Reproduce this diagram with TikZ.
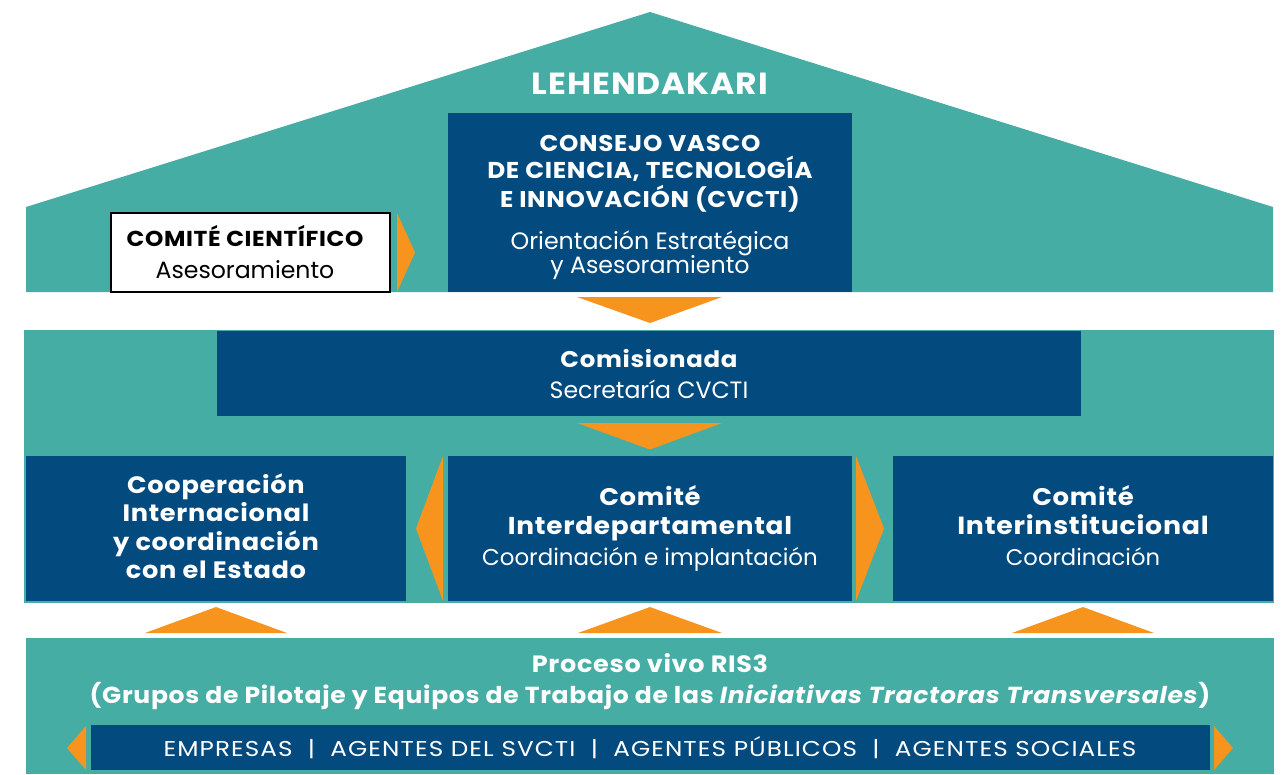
\documentclass[tikz,border=0pt]{standalone}
\usepackage{fontspec}
\setmainfont{Poppins}
\newfontfamily\fB[FakeStretch=1.08,LetterSpace=3]{Poppins}
\newfontfamily\fC[FakeStretch=1.15,LetterSpace=5]{Poppins}
\definecolor{hteal}{HTML}{46ADA5}
\definecolor{hnavy}{HTML}{034A7F}
\definecolor{horange}{HTML}{F7941D}
\begin{document}
\begin{tikzpicture}[x=0.75pt,y=-0.75pt,
  navybox/.style={fill=hnavy,inner sep=0pt,outer sep=0pt},
  whitebox/.style={fill=white,draw=black,line width=1.5pt,inner sep=0pt,outer sep=0pt},
  chev/.style={fill=horange},
  band/.style={fill=hteal},
  wt/.style={text=white,inner sep=0pt,anchor=base},
  bt/.style={text=black,inner sep=0pt,anchor=base},
  fb/.style={font=\fB\bfseries\fontsize{#1}{20}\selectfont},
  fr/.style={font=\fontsize{#1}{20}\selectfont},
]
\useasboundingbox (0,0) rectangle (1287,774);
% bands
\fill[band] (26,207) -- (650,12) -- (1273,207) -- (1273,292) -- (26,292) -- cycle;
\fill[band] (24,330) rectangle (1274,603);
\fill[band] (26,638) rectangle (1274,774);
% boxes
\node[navybox,minimum width=303pt,minimum height=134.25pt] (cvcti) at (650,202.5) {};
\node[whitebox,minimum width=209.25pt,minimum height=59.25pt] (cient) at (250.5,252.5) {};
\node[navybox,minimum width=648pt,minimum height=63.75pt] (comis) at (649,373.5) {};
\node[navybox,minimum width=285pt,minimum height=108.75pt] (coop) at (216,528.5) {};
\node[navybox,minimum width=303pt,minimum height=108.75pt] (interdep) at (650,528.5) {};
\node[navybox,minimum width=285pt,minimum height=108.75pt] (interinst) at (1083,528.5) {};
\node[navybox,minimum width=839.25pt,minimum height=33.75pt] (agents) at (650.5,747.5) {};
% chevrons
\fill[chev] (397,213) -- (415,252.5) -- (397,292) -- cycle;
\fill[chev] (577,297) -- (722,297) -- (650,323) -- cycle;
\fill[chev] (577,423) -- (722,423) -- (650,449.5) -- cycle;
\fill[chev] (443,456) -- (416,528.5) -- (443,601) -- cycle;
\fill[chev] (856,456) -- (884,528.5) -- (856,601) -- cycle;
\fill[chev] (145,633) -- (216,607) -- (287,633) -- cycle;
\fill[chev] (578,633) -- (650,607) -- (722,633) -- cycle;
\fill[chev] (1012,633) -- (1083,607) -- (1154,633) -- cycle;
\fill[chev] (86,726) -- (67,748) -- (86,770) -- cycle;
\fill[chev] (1214,726) -- (1233,748) -- (1214,770) -- cycle;
% texts
\node[wt,fb=22.9] (leh) at (650,94) {LEHENDAKARI};
\node[wt,fb=17.1] (cv1) at (650,151) {CONSEJO VASCO};
\node[wt,fb=17.2] (cv2) at (650,178.5) {DE CIENCIA, TECNOLOGÍA};
\node[wt,fb=17.1] (cv3) at (650,207) {E INNOVACIÓN (CVCTI)};
\node[wt,fr=17.8] (cv4) at (650,249) {Orientación Estratégica};
\node[wt,fr=17.8] (cv5) at (650,273.5) {y Asesoramiento};
\node[bt,fb=16.2] (ci1) at (245,246) {COMITÉ CIENTÍFICO};
\node[bt,fr=17.7] (ci2) at (245,278) {Asesoramiento};
\node[wt,fb=17] (cm1) at (649,367) {Comisionada};
\node[wt,fr=17.7] (cm2) at (649,398.5) {Secretaría CVCTI};
\node[wt,fb=17.8] (co1) at (216,493) {Cooperación};
\node[wt,fb=17.8] (co2) at (216,521.5) {Internacional};
\node[wt,fb=17.8] (co3) at (216,550) {y coordinación};
\node[wt,fb=17.8] (co4) at (216,578) {con el Estado};
\node[wt,fb=18] (id1) at (650,505.5) {Comité};
\node[wt,fb=18.3] (id2) at (650,534.5) {Interdepartamental};
\node[wt,fr=17.2] (id3) at (650,565.5) {Coordinación e implantación};
\node[wt,fb=18] (ii1) at (1083,505.5) {Comité};
\node[wt,fb=18.6] (ii2) at (1083,534.5) {Interinstitucional};
\node[wt,fr=17] (ii3) at (1083,565.5) {Coordinación};
\node[wt,fb=17.7] (pr1) at (650,672.5) {Proceso vivo RIS3};
\node[wt,fb=17.4] (pr2) at (650,703.5) {(Grupos de Pilotaje y Equipos de Trabajo de las \textit{Iniciativas Tractoras Transversales})};
\node[wt,font=\fC\fontsize{16.1}{20}\selectfont] (ag) at (650,756) {EMPRESAS \ | \ AGENTES DEL SVCTI \ | \ AGENTES PÚBLICOS \ | \ AGENTES SOCIALES};
\end{tikzpicture}
\end{document}
